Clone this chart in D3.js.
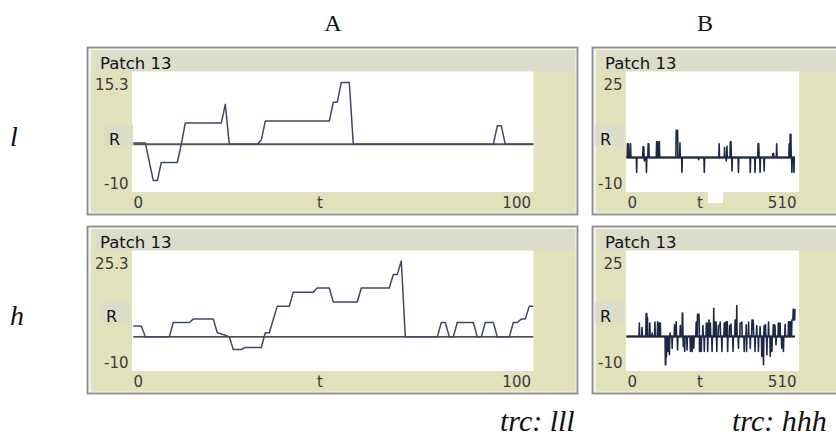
<!DOCTYPE html>
<html><head><meta charset="utf-8">
<script src="https://cdn.jsdelivr.net/npm/d3@7"></script>
<style>html,body{margin:0;padding:0;background:#fff;}svg{display:block}</style>
</head><body>
<svg id="fig" width="836" height="441"></svg>
<script>
// ---- labels ----
const columnTitles = ["A", "B"];
const rowTitles = ["l", "h"];
const traceLabels = ["trc: lll", "trc: hhh"];
const plotTitle = "Patch 13";
const yAxisName = "R";
const xAxisName = "t";

// ---- axis ranges (min / max shown on each plot) ----
const xRangeA = [0, 100];
const xRangeB = [0, 510];
const yRangeALow = [-10, 15.3];
const yRangeAHigh = [-10, 25.3];
const yRangeBLow = [-10, 25];
const yRangeBHigh = [-10, 25];

// ---- series: [t, R] ----
const seriesALow = [[0,0.3],[3,0.3],[5,-7.6],[6,-7.6],[7,-3.8],[11,-3.8],[12,0],[13,4.5],[22,4.5],[23,8.4],[24,0],
  [31,0],[32,0.9],[33,4.9],[49,4.9],[50,8.85],[51,8.85],[52,13],[54,13],[55,0],[90,0],[91,3.9],[92,3.9],[93,0],[100,0]];

const seriesAHigh = [[0,3.2],[2,3.2],[3,0],[9,0],[10,4.2],[14,4.2],[15,5.2],[20,5.2],[21,1.2],[23,0.5],[24,0],
  [25,-3.7],[27,-3.7],[28,-3.1],[32,-3.1],[33,1.2],[34,1.2],[36,9.0],[39,9.0],[40,13.1],[45,13.1],[46,14.3],
  [49,14.3],[50,10.2],[56,10.2],[57,14.3],[64,14.3],[65,18.3],[66,18.3],[67,22.2],[68,0],[76,0],[77,4.2],
  [78,4.2],[79,0],[80,0],[81,4.2],[85,4.2],[86,0],[87,0],[88,4.2],[90,4.2],[91,0],[94,0],[95,4.2],[96,4.2],
  [97,5.2],[98,5.2],[99,9.0],[100,9.0]];

const seriesBLow = [[0,0],[2,0],[3,4.0],[5,4.0],[6,0],[10,0],[11,4.0],[12,4.0],[13,0],[29,0],[30,-4.3],[31,0],
  [48,0],[49,3.1],[51,3.1],[52,0],[53,-1.0],[54,0],[58,0],[59,-4.3],[60,0],[63,0],[64,4.0],[66,4.0],[67,0],
  [88,0],[89,4.6],[91,4.6],[92,0],[95,0],[96,4.6],[97,4.6],[98,0],[146,0],[147,7.9],[151,7.9],[152,0],
  [157,0],[158,4.3],[159,0],[163,0],[164,-4.3],[165,0],[212,0],[213,-0.6],[214,0],[229,0],[230,-4.3],[231,0],
  [273,0],[274,4.0],[275,0],[289,0],[290,2.9],[291,0],[294,0],[295,-1.0],[296,0],[297,3.3],[298,0],
  [306,0],[307,4.6],[309,4.6],[310,0],[311,0],[312,-3.9],[313,0],[330,0],[331,-4.3],[332,0],[365,0],[366,-4.3],
  [367,0],[379,0],[380,-4.3],[381,0],[388,0],[389,4.0],[391,4.0],[392,0],[394,0],[395,-4.3],[396,0],[406,0],
  [407,-3.9],[408,0],[432,0],[433,1.2],[435,1.2],[436,0],[443,0],[444,4.0],[445,0],[480,0],[481,4.0],[482,0],
  [483,0],[484,6.75],[486,6.75],[487,0],[488,0],[489,-4.3],[490,0],[494,0],[495,-4.3],[496,0],[498,0]];

const seriesBHigh = [[0,0],[37,0],[38,3.9],[39,0],[45,0],[46,2.6],[47,0],[57,0],[58,6.7],[60,6.7],[61,0],[62,5.5],
  [63,0],[68,0],[69,3.9],[70,0],[75,0],[76,1.0],[77,0],[83,0],[84,4.2],[85,0],[91,0],[92,4.3],[93,0],[96,0],
  [97,3.9],[100,3.9],[101,0],[114,0],[115,-8.2],[116,-8.2],[117,0],[118,-6.0],[119,0],[122,0],[123,-4.3],[124,0],
  [126,0],[127,-5.3],[128,0],[129,1.0],[130,0],[134,0],[135,-3.4],[136,0],[141,0],[142,3.4],[143,0],[146,0],
  [147,4.3],[148,0],[150,0],[151,-3.9],[152,0],[158,0],[159,3.2],[160,0],[164,0],[165,6.8],[166,6.8],[167,0],
  [168,-2.9],[169,0],[171,0],[172,-4.3],[173,0],[178,0],[179,-3.9],[180,0],[188,0],[189,-4.3],[190,0],[193,0],
  [194,-4.3],[195,0],[198,0],[199,-3.4],[200,0],[205,0],[206,4.2],[207,0],[209,0],[210,6.5],[214,6.5],[215,4.5],
  [216,-4.3],[217,0],[220,0],[221,-4.3],[222,0],[225,0],[226,3.2],[227,0],[229,0],[230,-4.3],[231,0],[235,0],
  [236,3.9],[239,3.9],[240,-4.3],[241,0],[243,0],[244,4.8],[245,0],[247,0],[248,3.9],[249,0],[252,0],[253,-4.3],
  [254,0],[257,0],[258,8.2],[259,0],[261,0],[262,4.2],[265,4.2],[266,0],[267,-4.3],[268,0],[271,0],[272,3.2],
  [276,3.2],[277,4.2],[278,0],[281,0],[282,-4.3],[283,0],[288,0],[289,3.9],[292,3.9],[293,0],[294,0],[295,4.3],
  [298,4.3],[299,-4.3],[300,0],[304,0],[305,3.2],[308,3.2],[309,3.6],[310,0],[314,0],[315,-4.3],[316,0],[320,0],
  [321,4.8],[324,4.8],[325,0],[326,9.0],[327,0],[330,0],[331,-3.4],[332,0],[335,0],[336,3.9],[340,3.9],[341,4.2],
  [342,0],[347,0],[348,-4.3],[349,0],[353,0],[354,3.4],[355,-4.3],[356,0],[360,0],[361,4.2],[362,0],[365,0],
  [366,-3.4],[367,0],[370,0],[371,4.8],[374,4.8],[375,3.9],[376,0],[379,0],[380,-4.3],[381,0],[384,0],[385,3.2],
  [386,0],[389,0],[390,-4.3],[391,0],[394,0],[395,2.9],[396,0],[399,0],[400,-5.8],[401,0],[404,0],[405,-8.2],
  [406,0],[407,3.2],[408,0],[410,0],[411,3.4],[412,0],[414,0],[415,-5.3],[416,0],[419,0],[420,4.2],[421,0],
  [424,0],[425,-5.8],[426,0],[429,0],[430,-4.3],[431,0],[433,0],[434,3.4],[437,3.4],[438,0],[439,3.2],[440,0],
  [441,0],[442,-2.4],[443,0],[448,0],[449,3.9],[450,0],[453,0],[454,3.9],[455,0],[458,0],[459,-3.4],[460,0],
  [463,0],[464,-4.3],[465,0],[468,0],[469,3.6],[470,0],[478,0],[479,4.3],[482,4.3],[483,0],[484,4.2],[487,4.2],
  [488,0],[489,4.8],[492,4.8],[493,8.0],[494,4.8],[497,4.8],[498,8.0]];

// ---- drawing ----
const svg = d3.select("#fig");
const SANS = "'DejaVu Sans', Verdana, sans-serif";
const SERIF = "'Liberation Serif', 'Times New Roman', serif";
const KHAKI = "#e1e1bb", BAR = "#dcdcca", TXT = "#3a3a3a";

const rowTop = [47, 226];
const cols = [
  {boxL: 87, boxR: 577, plotL: 132, plotR: 533.5, xr: [133.3, 533.3], xDom: xRangeA, tPos: 320, lineColor: "#3b4a66", lw: 1.5},
  {boxL: 592, boxR: 845, plotL: 626, plotR: 799, xr: [626.5, 799], xDom: xRangeB, tPos: 700, lineColor: "#1b2846", lw: 1.6}
];
const panels = [
  {col: 0, row: 0, yDom: yRangeALow, data: seriesALow, zeroColor: "#555", zeroW: 2},
  {col: 1, row: 0, yDom: yRangeBLow, data: seriesBLow, zeroColor: "#111", zeroW: 2},
  {col: 0, row: 1, yDom: yRangeAHigh, data: seriesAHigh, zeroColor: "#111", zeroW: 1.4},
  {col: 1, row: 1, yDom: yRangeBHigh, data: seriesBHigh, zeroColor: "#111", zeroW: 2}
];
const rBoxes = [[104, 125], [595, 125], [101, 302], [595, 302]];

panels.forEach((p, i) => {
  const c = cols[p.col];
  const y0 = rowTop[p.row];
  const g = svg.append("g");
  const boxB = y0 + 167;
  // frame
  g.append("rect").attr("x", c.boxL + 0.5).attr("y", y0 + 0.5)
    .attr("width", c.boxR - c.boxL).attr("height", boxB - y0)
    .attr("fill", "#f2f2ec").attr("stroke", "#8c8c8c").attr("stroke-width", 1.8);
  g.append("rect").attr("x", c.boxL + 4).attr("y", y0 + 3)
    .attr("width", c.boxR - c.boxL - 5.5).attr("height", boxB - y0 - 4.5).attr("fill", KHAKI);
  // title bar
  g.append("rect").attr("x", c.boxL + 8).attr("y", y0 + 3)
    .attr("width", c.boxR - c.boxL - 10).attr("height", 21.5).attr("fill", BAR);
  g.append("text").attr("x", c.boxL + 13).attr("y", y0 + 22)
    .attr("font-family", SANS).attr("font-size", 16.5).attr("fill", "#111").text(plotTitle);

  const plotT = y0 + 24.5, plotB = y0 + 145;
  g.append("rect").attr("x", c.plotL).attr("y", plotT)
    .attr("width", c.plotR - c.plotL).attr("height", plotB - plotT).attr("fill", "#fff");

  const x = d3.scaleLinear().domain(c.xDom).range(c.xr);
  const y = d3.scaleLinear().domain(p.yDom).range([plotB, plotT]);

  // y-axis name box
  const rb = rBoxes[i];
  g.append("rect").attr("x", rb[0]).attr("y", rb[1]).attr("width", 29).attr("height", 21).attr("fill", BAR);
  g.append("text").attr("x", rb[0] + 5).attr("y", rb[1] + 20)
    .attr("font-family", SANS).attr("font-size", 16).attr("fill", "#111").text(yAxisName);

  // min / max labels
  const lab = (tx, ty, s, anchor) => g.append("text").attr("x", tx).attr("y", ty)
    .attr("text-anchor", anchor).attr("font-family", SANS).attr("font-size", 15)
    .attr("fill", TXT).text(s);
  lab(c.plotL - 3.5, y0 + 43, String(p.yDom[1]), "end");
  lab(c.plotL - 3.5, y0 + 141.5, String(p.yDom[0]), "end");
  const xb = y0 + 161;
  lab(c.plotL + 1.5, xb, String(c.xDom[0]), "start");
  lab(c.plotR - 2.5, xb, String(c.xDom[1]), "end");
  lab(c.tPos, xb, xAxisName, "middle");

  // zero reference line
  const lastT = p.data[p.data.length - 1][0];
  g.append("line").attr("x1", x(0)).attr("x2", x(lastT)).attr("y1", y(0)).attr("y2", y(0))
    .attr("stroke", p.zeroColor).attr("stroke-width", p.zeroW);

  // series
  const line = d3.line().x(d => x(d[0])).y(d => y(d[1]));
  g.append("path").datum(p.data).attr("d", line).attr("fill", "none")
    .attr("stroke", c.lineColor).attr("stroke-width", c.lw).attr("stroke-linejoin", "round");
});

// small white gap under the B time label
svg.append("rect").attr("x", 708).attr("y", 192).attr("width", 15).attr("height", 11).attr("fill", "#fff");

// column / row headings
const colX = [333, 705];
svg.selectAll(".ct").data(columnTitles).join("text").attr("class", "ct")
  .attr("x", (d, i) => colX[i]).attr("y", 31).attr("text-anchor", "middle")
  .attr("font-family", SERIF).attr("font-size", 24).attr("fill", "#111").text(d => d);
const rowY = [146, 325];
svg.selectAll(".rt").data(rowTitles).join("text").attr("class", "rt")
  .attr("x", 10).attr("y", (d, i) => rowY[i]).attr("font-family", SERIF).attr("font-style", "italic")
  .attr("font-size", 28).attr("fill", "#111").text(d => d);
const trcX = [500, 732];
svg.selectAll(".tr").data(traceLabels).join("text").attr("class", "tr")
  .attr("x", (d, i) => trcX[i]).attr("y", 431).attr("font-family", SERIF).attr("font-style", "italic")
  .attr("font-size", 30).attr("fill", "#111").text(d => d);
</script>
</body></html>
